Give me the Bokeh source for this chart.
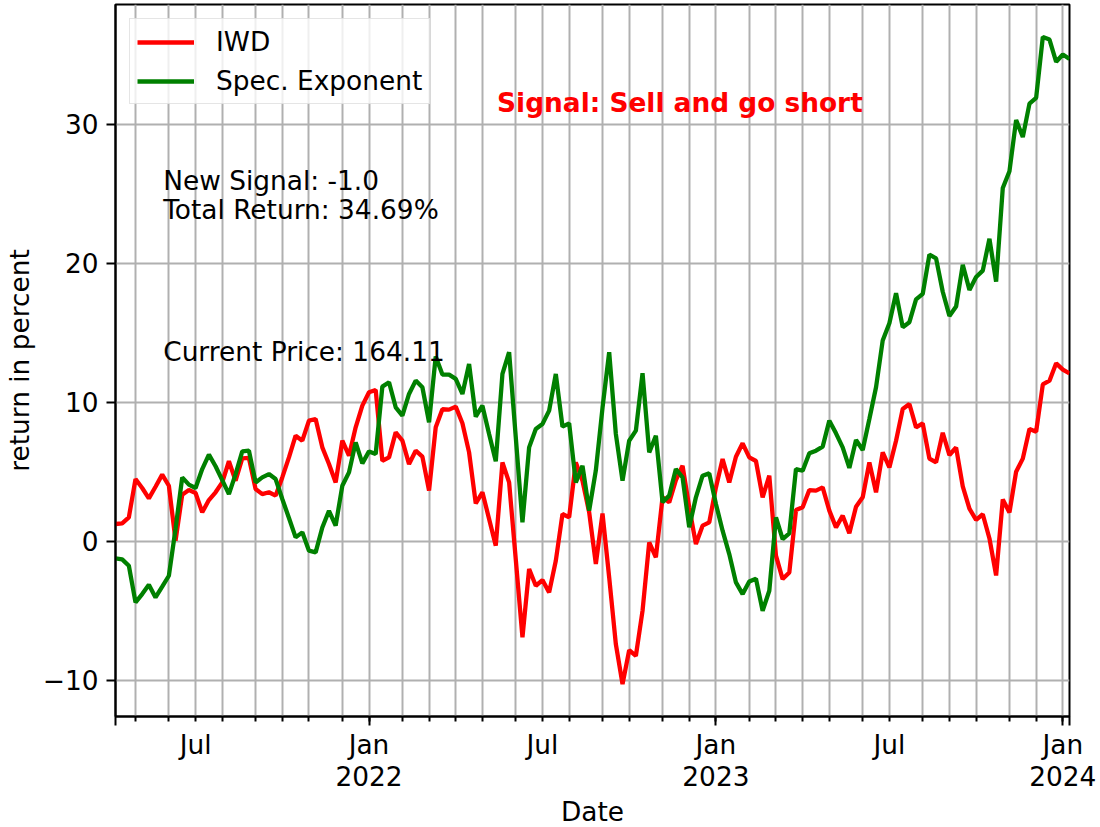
import pandas as pd
from bokeh.plotting import figure
from bokeh.models import FixedTicker, Label, Range1d, ColumnDataSource, DatetimeAxis
from bokeh.embed import file_html
from bokeh.resources import INLINE

# ---------------- data ----------------
START_DATE = "2021-04-12"          # first weekly period (Monday)
SERIES_NAMES = ["IWD", "Spec. Exponent"]

iwd = [
    1.25, 1.3, 1.73, 4.48, 3.84, 3.09, 3.93, 4.8, 4.0, 0.05,
    3.36, 3.69, 3.48, 2.09, 2.97, 3.53, 4.24, 5.76, 4.36, 5.97,
    6.0, 3.76, 3.4, 3.53, 3.29, 4.6, 6.04, 7.6, 7.24, 8.68,
    8.8, 6.76, 5.56, 4.24, 7.24, 6.16, 8.2, 9.76, 10.72, 10.89,
    5.8, 6.04, 7.84, 7.24, 5.56, 6.52, 6.09, 3.65, 8.2, 9.5,
    9.47, 9.69, 8.49, 6.4, 2.73, 3.53, 1.61, -0.31, 5.68, 4.24,
    -1.3, -6.9, -1.99, -3.19, -2.78, -3.67, -1.39, 1.97, 1.73, 5.68,
    4.36, 2.09, -1.63, 2.01, -2.59, -7.39, -10.26, -7.82, -8.23, -4.99,
    -0.07, -1.15, 3.17, 2.81, 4.41, 5.44, 2.45, -0.19, 1.13, 1.37,
    3.88, 5.92, 4.24, 6.09, 7.05, 6.04, 5.78, 3.17, 4.72, -1.03,
    -2.71, -2.23, 2.25, 2.45, 3.69, 3.65, 3.88, 2.21, 1.01, 1.85,
    0.58, 2.49, 3.17, 5.68, 3.53, 6.4, 5.32, 7.24, 9.52, 9.88,
    8.2, 8.48, 5.95, 5.68, 7.81, 6.21, 6.75, 3.95, 2.35, 1.55,
    1.95, 0.21, -2.45, 3.01, 2.08, 5.01, 5.95, 8.08, 7.89, 11.28,
    11.55, 12.8, 12.35, 12.08,
]

spec = [
    -1.22, -1.29, -1.75, -4.39, -3.79, -3.12, -4.03, -3.26, -2.47, 0.9,
    4.6, 4.08, 3.84, 5.2, 6.24, 5.4, 4.4, 3.4, 4.84, 6.47,
    6.52, 4.24, 4.6, 4.84, 4.48, 3.05, 1.68, 0.29, 0.65, -0.67,
    -0.79, 1.0, 2.2, 1.13, 4.0, 4.96, 7.12, 5.61, 6.47, 6.28,
    11.13, 11.44, 9.64, 9.04, 10.6, 11.56, 11.08, 8.56, 13.3, 12.0,
    11.99, 11.68, 10.6, 12.76, 8.97, 9.76, 7.72, 5.76, 12.04, 13.6,
    7.48, 1.37, 6.76, 8.08, 8.44, 9.4, 12.04, 8.25, 8.49, 4.24,
    5.44, 2.21, 5.1, 9.6, 13.6, 7.72, 4.36, 7.24, 7.96, 12.09,
    6.4, 7.6, 2.81, 3.29, 5.2, 4.6, 1.01, 3.17, 4.72, 4.89,
    2.69, 0.77, -0.91, -2.95, -3.79, -2.88, -2.68, -4.99, -3.55, 1.73,
    0.17, 0.58, 5.2, 5.08, 6.33, 6.52, 6.81, 8.68, 7.77, 6.76,
    5.28, 7.29, 6.57, 8.8, 11.08, 14.44, 15.68, 17.84, 15.4, 15.76,
    17.4, 17.8, 20.61, 20.35, 17.95, 16.21, 16.88, 19.89, 18.08, 19.01,
    19.47, 21.76, 18.67, 25.41, 26.61, 30.29, 29.07, 31.47, 31.89, 36.27,
    36.08, 34.48, 35.01, 34.69,
]

Y_TICKS = [-10, 0, 10, 20, 30]
Y_TICK_LABELS = ["\u221210", "0", "10", "20", "30"]
MONTH_LABELS = {1: "Jan", 7: "Jul"}

NEW_SIGNAL = -1.0
TOTAL_RETURN = 34.69
CURRENT_PRICE = 164.11
SIGNAL_TEXT = "Signal: Sell and go short"

# ---------------- setup ----------------
FONT = "DejaVu Sans"
FS = "26.4px"
RED = "#ff0000"
GREEN = "#008000"
GRID = "#b0b0b0"

n = len(iwd)
dates = pd.date_range(START_DATE, periods=n, freq="7D")
ms = [int(d.value // 10**6) for d in dates]

# month ticks: first weekly period whose start lies in a new month
month_ticks, long_ticks, jan_ticks = [], [ms[0], ms[-1]], []
month_over, year_over = {}, {}
for i in range(1, n):
    if dates[i].month != dates[i - 1].month:
        t = ms[i]
        month_ticks.append(t)
        m = dates[i].month
        month_over[t] = MONTH_LABELS.get(m, "")
        if m == 1:
            long_ticks.append(t)
            jan_ticks.append(t)
            year_over[t] = str(dates[i].year)

Y_LO, Y_HI = -12.59, 38.6

source = ColumnDataSource(dict(date=dates, iwd=iwd, spec=spec))

p = figure(
    frame_width=954, frame_height=712,
    x_axis_type="datetime",
    x_range=Range1d(ms[0], ms[-1]),
    y_range=Range1d(Y_LO, Y_HI),
    output_backend="svg", toolbar_location=None,
    min_border_left=112, min_border_right=28,
    min_border_top=4, min_border_bottom=106,
)
p.background_fill_color = "white"
p.border_fill_color = "white"
p.outline_line_color = "black"
p.outline_line_width = 2

p.line("date", "iwd", source=source, color=RED, line_width=4.3, legend_label=SERIES_NAMES[0])
p.line("date", "spec", source=source, color=GREEN, line_width=4.3, legend_label=SERIES_NAMES[1])

# x axis (months)
xt = FixedTicker(ticks=month_ticks, minor_ticks=long_ticks)
xa = p.xaxis[0]
xa.ticker = xt
xa.major_label_overrides = month_over
xa.major_tick_in = 0
xa.major_tick_out = 5
xa.minor_tick_in = 0
xa.minor_tick_out = 9
xa.major_tick_line_width = 2
xa.minor_tick_line_width = 2
xa.axis_line_width = 2
xa.major_label_text_font = FONT
xa.major_label_text_font_size = FS
xa.major_label_text_color = "black"
xa.major_label_standoff = 3

# second x axis row (years) + axis title
yr_t = FixedTicker(ticks=jan_ticks, minor_ticks=[])
xa2 = DatetimeAxis(ticker=yr_t)
xa2.major_label_overrides = year_over
xa2.axis_line_color = None
xa2.major_tick_line_color = None
xa2.minor_tick_line_color = None
xa2.major_tick_in = 0
xa2.major_tick_out = 0
xa2.minor_tick_in = 0
xa2.minor_tick_out = 0
xa2.major_label_text_font = FONT
xa2.major_label_text_font_size = FS
xa2.major_label_text_color = "black"
xa2.major_label_standoff = 3
xa2.axis_label = "Date"
xa2.axis_label_text_font = FONT
xa2.axis_label_text_font_size = FS
xa2.axis_label_text_font_style = "normal"
xa2.axis_label_text_color = "black"
xa2.axis_label_standoff = 7
p.add_layout(xa2, "below")

# y axis
yt = FixedTicker(ticks=Y_TICKS, minor_ticks=[])
ya = p.yaxis[0]
ya.ticker = yt
ya.major_label_overrides = dict(zip(Y_TICKS, Y_TICK_LABELS))
ya.major_tick_in = 0
ya.major_tick_out = 9
ya.minor_tick_line_color = None
ya.major_tick_line_width = 2
ya.axis_line_width = 2
ya.major_label_text_font = FONT
ya.major_label_text_font_size = FS
ya.major_label_text_color = "black"
ya.major_label_standoff = 8
ya.axis_label = "return in percent"
ya.axis_label_text_font = FONT
ya.axis_label_text_font_size = FS
ya.axis_label_text_font_style = "normal"
ya.axis_label_text_color = "black"
ya.axis_label_standoff = 5

# grids
p.xgrid.ticker = xt
p.ygrid.ticker = yt
for g in (p.xgrid, p.ygrid):
    g.grid_line_color = GRID
    g.grid_line_width = 2

# texts (axes-fraction placement, baseline anchored)
def ax_x(f):
    return ms[0] + f * (ms[-1] - ms[0])

def ax_y(f):
    return Y_LO + f * (Y_HI - Y_LO)

BASE_OFF = 9  # lifts Bokeh's text box so the glyph baseline sits on the anchor

def add_text(xf, yf, txt, extra=0, **kw):
    p.add_layout(Label(x=ax_x(xf), y=ax_y(yf), y_offset=BASE_OFF + extra, text=txt,
                       text_font=FONT, text_font_size=FS,
                       text_baseline="alphabetic", text_align="left", **kw))

add_text(0.40, 0.85, SIGNAL_TEXT, text_color=RED, text_font_style="bold")
add_text(0.05, 0.70, "New Signal: %s" % NEW_SIGNAL, extra=29, text_color="black")
add_text(0.05, 0.70, "Total Return: %.2f%%" % TOTAL_RETURN, text_color="black")
add_text(0.05, 0.50, "Current Price: %.2f" % CURRENT_PRICE, text_color="black")

# legend
lg = p.legend[0]
lg.location = "top_left"
lg.margin = 14
lg.padding = 7
lg.spacing = 8
lg.glyph_width = 57
lg.glyph_height = 30
lg.label_height = 30
lg.label_standoff = 22
lg.label_text_font = FONT
lg.label_text_font_size = FS
lg.label_text_color = "black"
lg.border_line_color = "#cccccc"
lg.border_line_width = 1.5
lg.background_fill_color = "white"
lg.background_fill_alpha = 0.8

open("out.html", "w").write(file_html(p, INLINE))
